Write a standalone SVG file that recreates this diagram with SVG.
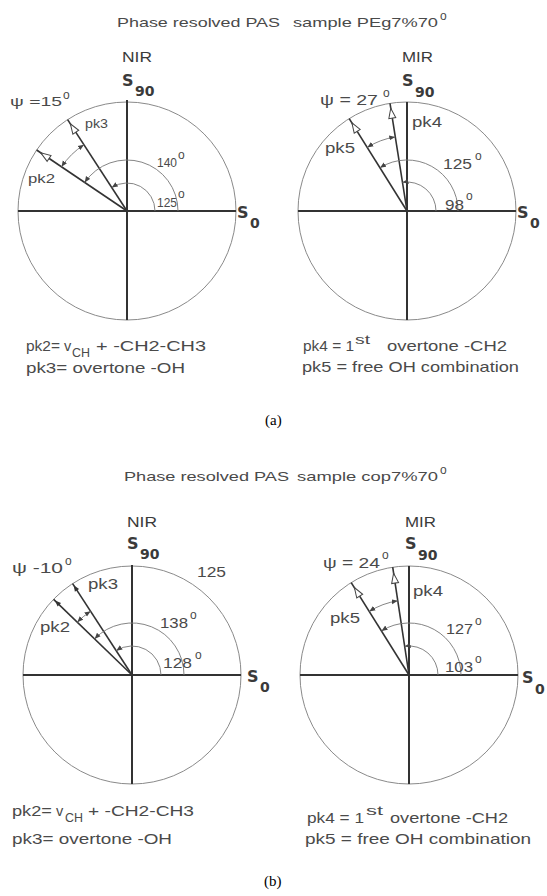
<svg xmlns="http://www.w3.org/2000/svg" xmlns:xlink="http://www.w3.org/1999/xlink" width="547" height="896" viewBox="0 0 547 896">
<style>
text{font-family:"Liberation Sans",Arial,sans-serif;fill:#4a4a4a}
.t{font-size:14.5px}
.ts{font-size:13.5px}
.lg{font-size:14.5px}
.lsub{font-size:12px}
.ti{font-size:13.5px}
.hd{font-size:14.5px;fill:#3a3a3a}
.sup{font-size:12px}
.sb{font-family:"DejaVu Sans",Verdana,sans-serif;font-weight:bold;fill:#3a3a3a;font-size:16px}
.sbs{font-family:"DejaVu Sans",Verdana,sans-serif;font-weight:bold;fill:#3a3a3a;font-size:14px}
.cap{font-family:"Liberation Serif","Times New Roman",serif;fill:#000;font-size:15px}
.circ{fill:none;stroke:#8a8a8a;stroke-width:1}
.axis{stroke:#333;stroke-width:2}
.pk{stroke:#333;stroke-width:1.6}
.arc{fill:none;stroke:#777;stroke-width:0.9;marker-end:url(#ah)}
.arc2{fill:none;stroke:#777;stroke-width:0.9;marker-end:url(#ah);marker-start:url(#ah)}
</style>
<defs>
<marker id="ah" viewBox="0 0 6 6" refX="6" refY="3" markerWidth="6" markerHeight="6" orient="auto-start-reverse" markerUnits="userSpaceOnUse">
<path d="M0,0.5 L6,3 L0,5.5 Z" fill="#444"/>
</marker>
<path id="hollow" d="M0,0 L-10,-3.5 L-10,3.5 Z" fill="#fff" stroke="#444" stroke-width="1"/>
<path id="solid" d="M0,0 L-6,-2.5 L-6,2.5 Z" fill="#333"/>
</defs>

<!-- ===== (a) ===== -->
<g id="title-a">
<text class="ti" x="117" y="27" textLength="163" lengthAdjust="spacingAndGlyphs">Phase resolved PAS</text>
<text class="ti" x="293" y="27" textLength="145" lengthAdjust="spacingAndGlyphs">sample PEg7%70</text>
<text class="sup" x="440" y="20">o</text>
</g>

<g id="panel-a-nir">
<text class="hd" x="122" y="62" textLength="30" lengthAdjust="spacingAndGlyphs">NIR</text>
<circle class="circ" cx="127" cy="211" r="109"/>
<line class="axis" x1="18" y1="211" x2="236" y2="211"/>
<line class="axis" x1="127" y1="100" x2="127" y2="320"/>
<text class="sb" x="122" y="86">S</text><text class="sbs" x="135" y="96">90</text>
<text class="sb" x="237" y="218">S</text><text class="sbs" x="250" y="228">0</text>
<line class="pk" x1="127" y1="211" x2="67.6" y2="119.6"/>
<line class="pk" x1="127" y1="211" x2="36.6" y2="150"/>
<use xlink:href="#hollow" transform="translate(70.36,123.78) rotate(-123)"/>
<use xlink:href="#hollow" transform="translate(40.78,152.84) rotate(-146)"/>
<path class="arc" d="M155,211 A28,28 0 0 0 111.75,187.52"/>
<path class="arc" d="M178,211 A51,51 0 0 0 84.72,182.48"/>
<path class="arc2" d="M83.98,144.74 A79,79 0 0 0 61.51,166.82"/>
<text class="ts" x="10" y="106" textLength="52" lengthAdjust="spacingAndGlyphs">ψ =15</text><text class="sup" x="63" y="99">o</text>
<text class="ts" x="85" y="128" textLength="23" lengthAdjust="spacingAndGlyphs">pk3</text>
<text class="ts" x="28" y="183" textLength="27" lengthAdjust="spacingAndGlyphs">pk2</text>
<text class="ts" x="157" y="167" textLength="20" lengthAdjust="spacingAndGlyphs">140</text><text class="sup" x="178" y="159">o</text>
<text class="ts" x="157" y="207" textLength="20" lengthAdjust="spacingAndGlyphs">125</text><text class="sup" x="178" y="198">o</text>
</g>

<g id="panel-a-mir">
<text class="hd" x="402" y="62" textLength="31" lengthAdjust="spacingAndGlyphs">MIR</text>
<circle class="circ" cx="407" cy="211" r="109"/>
<line class="axis" x1="298" y1="211" x2="516" y2="211"/>
<line class="axis" x1="407" y1="102" x2="407" y2="320"/>
<text class="sb" x="402" y="86">S</text><text class="sbs" x="415" y="97">90</text>
<text class="sb" x="517" y="218">S</text><text class="sbs" x="530" y="228">0</text>
<line class="pk" x1="407" y1="211" x2="390" y2="103.3"/>
<line class="pk" x1="407" y1="211" x2="349.2" y2="118.6"/>
<use xlink:href="#hollow" transform="translate(390.73,108.28) rotate(-99)"/>
<use xlink:href="#hollow" transform="translate(351.89,122.81) rotate(-122)"/>
<path class="arc" d="M436,211 A29,29 0 0 0 402.46,182.36"/>
<path class="arc" d="M458,211 A51,51 0 0 0 379.97,167.75"/>
<path class="arc2" d="M395.27,136.92 A75,75 0 0 0 367.26,147.4"/>
<text class="t" x="320" y="105" textLength="58" lengthAdjust="spacingAndGlyphs">ψ = 27</text><text class="sup" x="383" y="97">o</text>
<text class="t" x="412" y="127" textLength="30" lengthAdjust="spacingAndGlyphs">pk4</text>
<text class="t" x="325" y="153" textLength="30" lengthAdjust="spacingAndGlyphs">pk5</text>
<text class="t" x="443" y="169" textLength="29" lengthAdjust="spacingAndGlyphs">125</text><text class="sup" x="475" y="160">o</text>
<text class="t" x="445" y="210" textLength="19" lengthAdjust="spacingAndGlyphs">98</text><text class="sup" x="466" y="200">o</text>
</g>

<g id="legend-a">
<text class="lg" x="26" y="351" textLength="34" lengthAdjust="spacingAndGlyphs">pk2=</text>
<text class="lg" x="64" y="351">v</text>
<text class="lsub" x="72" y="357" textLength="18" lengthAdjust="spacingAndGlyphs">CH</text>
<text class="lg" x="96" y="351" textLength="110" lengthAdjust="spacingAndGlyphs">+  -CH2-CH3</text>
<text class="lg" x="26" y="373" textLength="159" lengthAdjust="spacingAndGlyphs">pk3= overtone -OH</text>
<text class="lg" x="303" y="351" textLength="51" lengthAdjust="spacingAndGlyphs">pk4 = 1</text>
<text class="lsub" x="355" y="344" textLength="15" lengthAdjust="spacingAndGlyphs">st</text>
<text class="lg" x="387" y="351" textLength="120" lengthAdjust="spacingAndGlyphs">overtone -CH2</text>
<text class="lg" x="302" y="372" textLength="217" lengthAdjust="spacingAndGlyphs">pk5 = free OH combination</text>
</g>
<text class="cap" x="265" y="425">(a)</text>

<!-- ===== (b) ===== -->
<g id="title-b">
<text class="ti" x="124" y="481" textLength="165" lengthAdjust="spacingAndGlyphs">Phase resolved PAS</text>
<text class="ti" x="297" y="481" textLength="141" lengthAdjust="spacingAndGlyphs">sample cop7%70</text>
<text class="sup" x="440" y="474">o</text>
</g>

<g id="panel-b-nir">
<text class="hd" x="127" y="527" textLength="30" lengthAdjust="spacingAndGlyphs">NIR</text>
<circle class="circ" cx="132" cy="675" r="109"/>
<line class="axis" x1="23" y1="675" x2="241" y2="675"/>
<line class="axis" x1="132" y1="565" x2="132" y2="784"/>
<text class="sb" x="127" y="549">S</text><text class="sbs" x="140" y="559">90</text>
<text class="sb" x="247" y="682">S</text><text class="sbs" x="260" y="692">0</text>
<line class="pk" x1="132" y1="675" x2="72.6" y2="583.6"/>
<line class="pk" x1="132" y1="675" x2="53.6" y2="599.3"/>
<use xlink:href="#solid" transform="translate(73.7,585.3) rotate(-123)"/>
<use xlink:href="#solid" transform="translate(55,600.6) rotate(-136)"/>
<path class="arc" d="M161,675 A29,29 0 0 0 116.21,650.68"/>
<path class="arc" d="M184,675 A52,52 0 0 0 94.6,638.88"/>
<path class="arc2" d="M90.61,611.26 A76,76 0 0 0 77.33,622.2"/>
<text class="t" x="12" y="573" textLength="51" lengthAdjust="spacingAndGlyphs">ψ -10</text><text class="sup" x="65" y="565">o</text>
<text class="t" x="197" y="577" textLength="29" lengthAdjust="spacingAndGlyphs">125</text>
<text class="t" x="88" y="589" textLength="30" lengthAdjust="spacingAndGlyphs">pk3</text>
<text class="t" x="40" y="632" textLength="30" lengthAdjust="spacingAndGlyphs">pk2</text>
<text class="t" x="160" y="628" textLength="28" lengthAdjust="spacingAndGlyphs">138</text><text class="sup" x="190" y="619">o</text>
<text class="t" x="163" y="668" textLength="29" lengthAdjust="spacingAndGlyphs">128</text><text class="sup" x="195" y="659">o</text>
</g>

<g id="panel-b-mir">
<text class="hd" x="405" y="527" textLength="31" lengthAdjust="spacingAndGlyphs">MIR</text>
<circle class="circ" cx="409" cy="675" r="109"/>
<line class="axis" x1="300" y1="675" x2="518" y2="675"/>
<line class="axis" x1="409" y1="566" x2="409" y2="784"/>
<text class="sb" x="405" y="549">S</text><text class="sbs" x="418" y="560">90</text>
<text class="sb" x="522" y="683">S</text><text class="sbs" x="535" y="694">0</text>
<line class="pk" x1="409" y1="675" x2="392.7" y2="567.2"/>
<line class="pk" x1="409" y1="675" x2="351.2" y2="582.6"/>
<use xlink:href="#hollow" transform="translate(393.6,573.15) rotate(-98.6)"/>
<use xlink:href="#hollow" transform="translate(354.42,587.65) rotate(-122)"/>
<path class="arc" d="M438,675 A29,29 0 0 0 404.66,646.32"/>
<path class="arc" d="M461,675 A52,52 0 0 0 381.45,630.9"/>
<path class="arc2" d="M397.79,600.84 A75,75 0 0 0 369.26,611.4"/>
<text class="t" x="323" y="568" textLength="57" lengthAdjust="spacingAndGlyphs">ψ = 24</text><text class="sup" x="382" y="559">o</text>
<text class="t" x="413" y="596" textLength="30" lengthAdjust="spacingAndGlyphs">pk4</text>
<text class="t" x="330" y="623" textLength="30" lengthAdjust="spacingAndGlyphs">pk5</text>
<text class="t" x="446" y="634" textLength="27" lengthAdjust="spacingAndGlyphs">127</text><text class="sup" x="475" y="625">o</text>
<text class="t" x="445" y="672" textLength="28" lengthAdjust="spacingAndGlyphs">103</text><text class="sup" x="475" y="663">o</text>
</g>

<g id="legend-b">
<text class="lg" x="12" y="816" textLength="40" lengthAdjust="spacingAndGlyphs">pk2=</text>
<text class="lg" x="56" y="816">v</text>
<text class="lsub" x="65" y="822" textLength="18" lengthAdjust="spacingAndGlyphs">CH</text>
<text class="lg" x="88" y="816" textLength="106" lengthAdjust="spacingAndGlyphs">+  -CH2-CH3</text>
<text class="lg" x="12" y="844" textLength="160" lengthAdjust="spacingAndGlyphs">pk3= overtone -OH</text>
<text class="lg" x="307" y="823" textLength="57" lengthAdjust="spacingAndGlyphs">pk4 = 1</text>
<text class="lsub" x="366" y="815" textLength="17" lengthAdjust="spacingAndGlyphs">st</text>
<text class="lg" x="390" y="823" textLength="118" lengthAdjust="spacingAndGlyphs">overtone -CH2</text>
<text class="lg" x="305" y="844" textLength="226" lengthAdjust="spacingAndGlyphs">pk5 = free OH combination</text>
</g>
<text class="cap" x="264" y="886">(b)</text>
</svg>
